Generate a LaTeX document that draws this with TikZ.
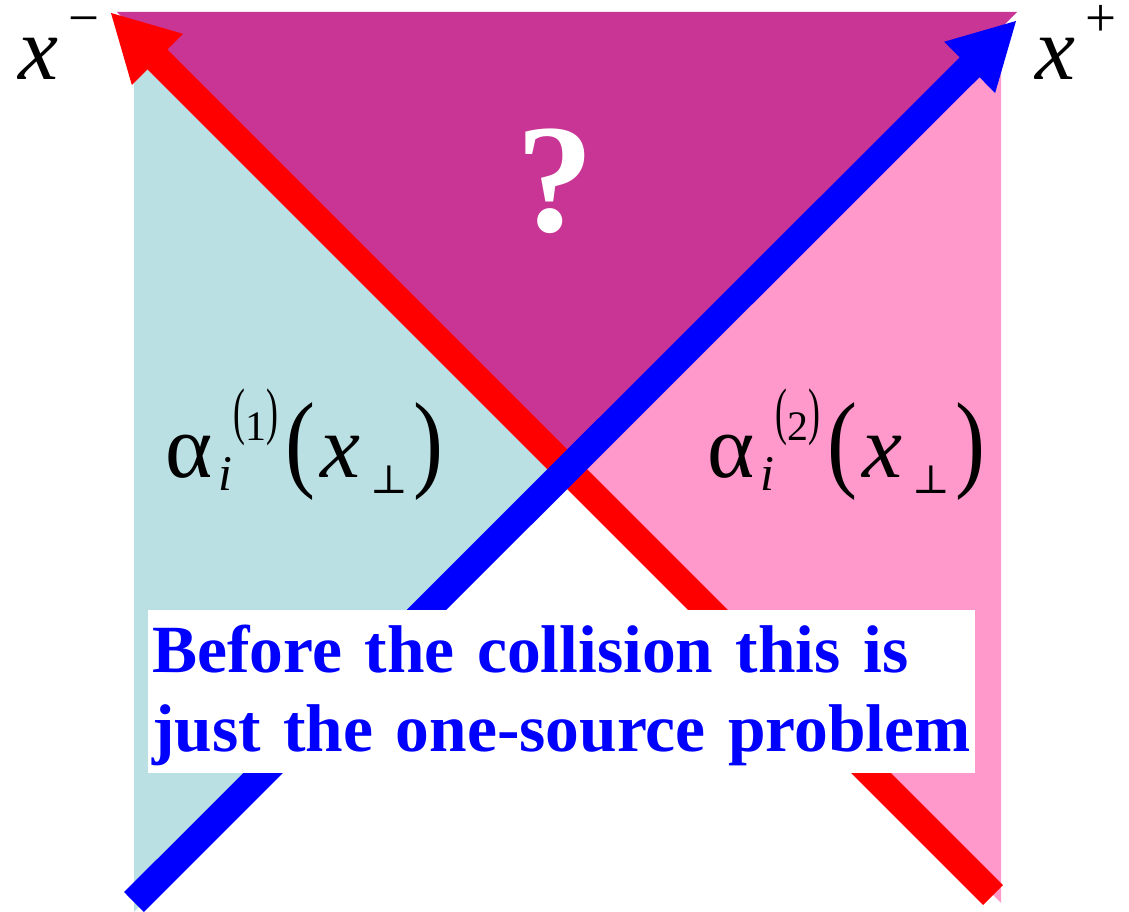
\documentclass[tikz,border=0pt]{standalone}
\usepackage{fontspec}
\setmainfont{Liberation Serif}
\newfontfamily\symfont{DejaVu Serif}
\usetikzlibrary{arrows.meta}
\definecolor{coneTop}{RGB}{201,53,149}
\definecolor{coneLeft}{RGB}{187,224,227}
\definecolor{coneRight}{RGB}{255,153,204}
\tikzset{
  beam/.style={line width=28pt,-{Triangle[length=67pt,width=67pt]}},
  lab/.style={inner sep=0pt,anchor=base west,font=\fontsize{90}{100}\selectfont},
}
% piece of a label set at a given offset from its start
\newcommand{\at}[2]{\rlap{\hspace{#1}#2}}
\newcommand{\axislab}[1]{\at{0pt}{\itshape x}\at{50pt}{\raisebox{43pt}{\fontsize{55}{55}\selectfont #1}}\hspace{80pt}}
\newcommand{\tallparen}[1]{\raisebox{8pt}{\scalebox{0.85}[1.5]{#1}}}
\newcommand{\fieldlab}[1]{%
  \at{0pt}{α}%
  \at{53pt}{\raisebox{-13pt}{\fontsize{50}{50}\selectfont\itshape i}}%
  \at{68pt}{\raisebox{37pt}{\fontsize{42}{42}\selectfont\tallparen{(}#1\tallparen{)}}}%
  \at{120pt}{\scalebox{1}[1.2]{(}}%
  \at{155pt}{\itshape x}%
  \at{205pt}{\raisebox{-16pt}{\fontsize{40}{40}\selectfont\symfont ⊥}}%
  \at{248pt}{\scalebox{1}[1.2]{)}}%
  \hspace{268pt}}

\begin{document}
\begin{tikzpicture}[x=1pt,y=-1pt]
  \useasboundingbox (0,0) rectangle (1129,912);
  \coordinate (O) at (567,469);
  % the three regions
  \fill[coneTop] (117,12) -- (1017,12) -- (O) -- cycle;
  \fill[coneLeft] (134,36) -- (O) -- (134,912) -- cycle;
  \fill[coneRight] (1001,35) -- (O) -- (1001,903) -- cycle;
  % light-cone axes
  \coordinate (redS) at (993,895);
  \coordinate (redE) at (110,12);
  \coordinate (blueS) at (134,902);
  \coordinate (blueE) at (1017,20);
  \draw[beam,red] (redS) -- (redE);
  \draw[beam,blue] (blueS) -- (blueE);
  % labels
  \node[lab] (xminus) at (18,80) {\axislab{−}};
  \node[lab] (xplus) at (1035,80) {\axislab{+}};
  \node[lab] (alphaL) at (165,477) {\fieldlab{1}};
  \node[lab] (alphaR) at (707,477) {\fieldlab{2}};
  \node[inner sep=0pt,anchor=base,text=white,font=\fontsize{155}{160}\selectfont\bfseries] (quest) at (555,231) {?};
  \node[fill=white,text=blue,font=\fontsize{67.5}{79}\selectfont\bfseries,anchor=north west,
        minimum width=827pt,minimum height=162pt,text width=819pt,inner xsep=4pt,inner ysep=7pt,align=left]
        (note) at (148,610) {\rule{0pt}{55pt}Before the collision this is\\just the one-source problem};
\end{tikzpicture}
\end{document}
